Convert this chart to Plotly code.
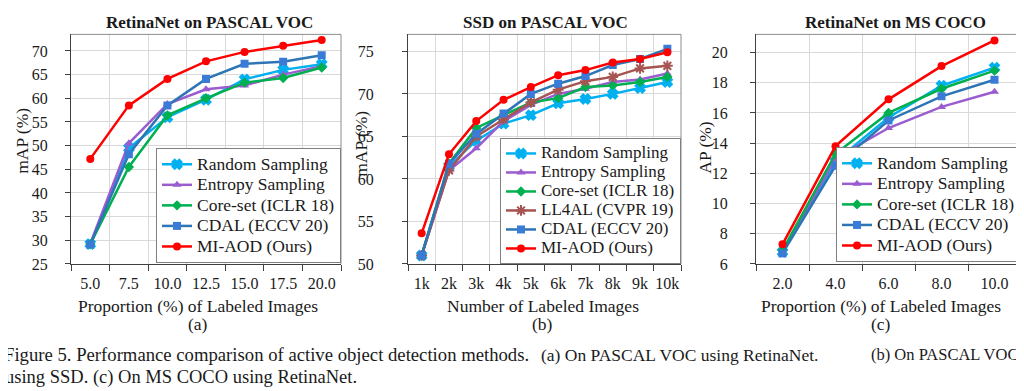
import plotly.graph_objects as go

W, H = 1024, 391
FONT = "Liberation Serif"

# ---------------- data ----------------
a_x = ["5.0", "7.5", "10.0", "12.5", "15.0", "17.5", "20.0"]
a_random = [29.2, 49.5, 56.0, 59.7, 64.0, 66.0, 67.2]
a_entropy = [29.3, 50.5, 58.8, 61.9, 62.7, 65.0, 66.8]
a_coreset = [29.2, 45.5, 56.4, 60.0, 63.3, 64.3, 66.5]
a_cdal = [29.1, 48.2, 58.5, 64.1, 67.3, 67.7, 69.1]
a_miaod = [47.2, 58.5, 64.1, 67.8, 69.8, 71.1, 72.3]

b_x = ["1k", "2k", "3k", "4k", "5k", "6k", "7k", "8k", "9k", "10k"]
b_random = [51.0, 61.5, 64.5, 66.5, 67.5, 68.9, 69.4, 70.0, 70.7, 71.4]
b_entropy = [51.0, 61.0, 63.6, 66.8, 68.7, 70.0, 70.6, 71.4, 71.7, 72.4]
b_coreset = [51.0, 61.8, 66.0, 67.5, 69.0, 69.5, 70.8, 71.0, 71.4, 72.0]
b_ll4al = [51.0, 61.0, 65.0, 67.0, 69.0, 70.5, 71.5, 72.0, 73.0, 73.3]
b_cdal = [51.0, 61.8, 65.3, 67.7, 70.0, 71.2, 72.1, 73.4, 74.1, 75.3]
b_miaod = [53.6, 62.9, 66.8, 69.3, 70.8, 72.2, 72.8, 73.7, 74.1, 74.9]

c_x = ["2.0", "4.0", "6.0", "8.0", "10.0"]
c_random = [6.8, 12.8, 15.7, 17.8, 19.0]
c_entropy = [6.8, 13.0, 15.0, 16.4, 17.4]
c_coreset = [6.9, 13.3, 16.0, 17.6, 18.8]
c_cdal = [6.7, 12.5, 15.5, 17.1, 18.2]
c_miaod = [7.3, 13.8, 16.9, 19.1, 20.8]

names = {
    "random": "Random Sampling",
    "entropy": "Entropy Sampling",
    "coreset": "Core-set (ICLR 18)",
    "ll4al": "LL4AL (CVPR 19)",
    "cdal": "CDAL (ECCV 20)",
    "miaod": "MI-AOD (Ours)",
}

styles = {
    "random": dict(line="#00B0F0", marker="#00B0F0", symbol="x", size=8),
    "entropy": dict(line="#9A5CCF", marker="#9A5CCF", symbol="triangle-up", size=8),
    "coreset": dict(line="#00B050", marker="#00B050", symbol="diamond", size=8),
    "ll4al": dict(line="#A65452", marker="#A65452", symbol="asterisk", size=9),
    "cdal": dict(line="#2E75B6", marker="#3A7BD8", symbol="square", size=8),
    "miaod": dict(line="#FF0000", marker="#FF0000", symbol="circle", size=8),
}

panels = [
    dict(x=a_x, series=[("random", a_random), ("entropy", a_entropy), ("coreset", a_coreset),
                        ("cdal", a_cdal), ("miaod", a_miaod)],
         px=(63, 333), yr=[25, 73.5], dtick=5, legend="legend", standoff=14,
         leg_row=13.5, leg_text=17.5, leg_bottom=261),
    dict(x=b_x, series=[("random", b_random), ("entropy", b_entropy), ("coreset", b_coreset),
                        ("ll4al", b_ll4al), ("cdal", b_cdal), ("miaod", b_miaod)],
         px=(400, 673), yr=[50, 77], dtick=5, legend="legend2", standoff=25,
         leg_row=11.5, leg_text=17, leg_bottom=262),
    dict(x=c_x, series=[("random", c_random), ("entropy", c_entropy), ("coreset", c_coreset),
                        ("cdal", c_cdal), ("miaod", c_miaod)],
         px=(748, 1013), yr=[6, 21.2], dtick=2, legend="legend3", standoff=19,
         leg_row=13.5, leg_text=17.5, leg_bottom=260),
]

PY_TOP, PY_BOT = 27, 262

fig = go.Figure()
layout = dict(
    width=W, height=H, margin=dict(l=0, r=0, t=0, b=0),
    paper_bgcolor="white", plot_bgcolor="white",
    font=dict(family=FONT, size=16, color="#1a1a1a"),
)
shapes = []
for i, p in enumerate(panels):
    k = "" if i == 0 else str(i + 1)
    xa, ya = "x" + k, "y" + k
    for key, vals in p["series"]:
        st = styles[key]
        mk = dict(color=st["marker"], symbol=st["symbol"], size=st["size"])
        if st["symbol"] in ("x", "asterisk"):
            mk["line"] = dict(color=st["marker"], width=2)
        else:
            mk["line"] = dict(width=0)
        fig.add_trace(go.Scatter(
            x=p["x"], y=vals, mode="lines+markers",
            name="<span style='font-size:%gpx'>%s</span>" % (p["leg_text"], names[key]),
            line=dict(color=st["line"], width=2.5), marker=mk,
            xaxis=xa, yaxis=ya, legend=p["legend"], showlegend=True,
        ))
    x0, x1 = p["px"][0] / W, p["px"][1] / W
    layout["xaxis" + k] = dict(
        domain=[x0, x1], anchor=ya, type="category", tickson="boundaries",
        range=[-0.5, len(p["x"]) - 0.5], showgrid=True, gridcolor="#D9D9D9", gridwidth=1,
        ticks="outside", ticklen=6, tickcolor="#404040", showline=True, linecolor="#404040",
        linewidth=1.2, tickfont=dict(family=FONT, size=16, color="#1a1a1a"), zeroline=False,
        ticklabelstandoff=5, tickangle=0,
    )
    layout["yaxis" + k] = dict(
        domain=[1 - PY_BOT / H, 1 - PY_TOP / H], anchor=xa, range=p["yr"], dtick=p["dtick"],
        showgrid=True, gridcolor="#D9D9D9", gridwidth=1, ticks="outside", ticklen=5,
        tickcolor="#404040", showline=True, linecolor="#404040", linewidth=1.2,
        tickfont=dict(family=FONT, size=16, color="#1a1a1a"), zeroline=False,
        ticklabelstandoff=p["standoff"],
    )
    shapes.append(dict(type="line", xref=xa + " domain", yref=ya + " domain",
                       x0=0, x1=1, y0=1, y1=1, line=dict(color="#8C8C8C", width=1),
                       layer="above"))
    shapes.append(dict(type="line", xref=xa + " domain", yref=ya + " domain",
                       x0=1, x1=1, y0=0, y1=1, line=dict(color="#8C8C8C", width=1),
                       layer="above"))
    layout[p["legend"]] = dict(
        x=x1, xanchor="right", y=1 - p["leg_bottom"] / H, yanchor="bottom",
        bgcolor="white", bordercolor="#7F7F7F", borderwidth=1,
        font=dict(family=FONT, size=p["leg_row"], color="#1a1a1a"), itemwidth=30,
        tracegroupgap=0,
    )

fig.update_layout(**layout)

def ann(text, xpx, ypx, size=17, angle=0, xanchor="center", yanchor="middle"):
    return dict(text=text, x=xpx / W, y=1 - ypx / H, xref="paper", yref="paper",
                showarrow=False, textangle=angle, xanchor=xanchor, yanchor=yanchor,
                font=dict(family=FONT, size=size, color="#1a1a1a"))

annotations = [
    ann("<b>RetinaNet on PASCAL VOC</b>", 201, 15, 17),
    ann("<b>SSD on PASCAL VOC</b>", 537, 15, 17),
    ann("<b>RetinaNet on MS COCO</b>", 887, 15, 17),
    ann("Proportion (%) of Labeled Images", 190, 305, 17.5),
    ann("Number of Labeled Images", 535, 305, 17.5),
    ann("Proportion (%) of Labeled Images", 873, 305, 17.5),
    ann("(a)", 190, 323, 17.5),
    ann("(b)", 534, 323, 17.5),
    ann("(c)", 873, 323, 17.5),
    ann("mAP (%)", 14, 136, 17.5, -90),
    ann("mAP (%)", 353, 139, 17.5, -90),
    ann("AP (%)", 697, 143, 17.5, -90),
    ann("Figure 5. Performance comparison of active object detection methods.", 258, 355, 18.7),
    ann("(a) On PASCAL VOC using RetinaNet.", 671, 355, 17.5),
    ann("(b) On PASCAL VOC", 936, 355, 16.5),
    ann("using SSD. (c) On MS COCO using RetinaNet.", 173, 378, 18.5),
]
fig.update_layout(annotations=annotations, shapes=shapes)

fig.write_html("out.html")
